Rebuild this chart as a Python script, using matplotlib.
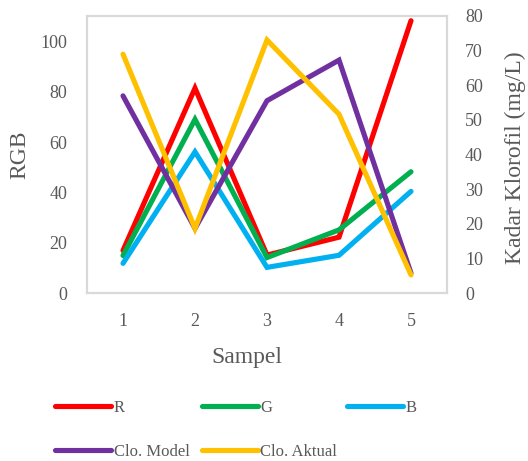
import matplotlib
matplotlib.use("Agg")
import matplotlib.pyplot as plt
from matplotlib.lines import Line2D

samples = [1, 2, 3, 4, 5]
r_vals = [17.0, 81.5, 15.2, 22.3, 108.3]
g_vals = [15.0, 69.1, 14.2, 25.2, 48.3]
b_vals = [11.9, 56.2, 10.3, 15.1, 40.5]
clo_model = [56.9, 18.7, 55.5, 67.2, 5.8]
clo_aktual = [68.9, 18.7, 73.0, 51.6, 5.3]
left_ticks = [0, 20, 40, 60, 80, 100]
right_ticks = [0, 10, 20, 30, 40, 50, 60, 70, 80]

plt.rcParams['font.family'] = ['Liberation Serif', 'DejaVu Serif']
txt = '#595959'
grid_c = '#d9d9d9'

fig = plt.figure(figsize=(5.28, 4.61), dpi=100)
W, H = 528, 461
x0, x1, ytop, ybot = 87, 447, 15.7, 293.3
ax = fig.add_axes([x0 / W, 1 - ybot / H, (x1 - x0) / W, (ybot - ytop) / H])
ax2 = ax.twinx()

lw = 3.7
kw = dict(lw=lw, solid_capstyle='round', solid_joinstyle='miter')
lr, = ax.plot(samples, r_vals, color='#FF0000', label='R', **kw)
lg, = ax.plot(samples, g_vals, color='#00B050', label='G', **kw)
lb, = ax.plot(samples, b_vals, color='#00B0F0', label='B', **kw)
lm, = ax2.plot(samples, clo_model, color='#7030A0', label='Clo. Model', **kw)
la, = ax2.plot(samples, clo_aktual, color='#FFC000', label='Clo. Aktual', **kw)

ax.set_xlim(0.5, 5.5)
ax.set_ylim(0, 110.3)
ax2.set_ylim(0, 80)
ax.set_xticks(samples)
ax.set_yticks(left_ticks)
ax2.set_yticks(right_ticks)

for a in (ax, ax2):
    for s in a.spines.values():
        s.set_color(grid_c)
        s.set_linewidth(1.5)
    a.tick_params(length=0, labelsize=13, labelcolor=txt)
ax.tick_params(axis='y', pad=14)
ax.tick_params(axis='x', pad=14)
ax2.tick_params(axis='y', pad=13)

ax.set_ylabel('RGB', fontsize=17, color=txt, va='center')
ax.yaxis.set_label_coords(-0.186, 0.5)
ax2.set_ylabel('Kadar Klorofil (mg/L)', fontsize=17, color=txt, va='center')
ax2.yaxis.set_label_coords(1.189, 0.49)
ax.set_xlabel('Sampel', fontsize=17, color=txt, va='center')
ax.xaxis.set_label_coords(0.444, -0.233)

fs_leg = 12
hl = 56 / (fs_leg * 100 / 72)
entries = [(lr, 55, 408), (lg, 202, 408), (lb, 347, 408), (lm, 55, 452), (la, 202, 452)]
for h, lx, ly in entries:
    handle = Line2D([], [], color=h.get_color(), lw=lw, solid_capstyle='round')
    leg = fig.legend(handles=[handle], labels=[h.get_label()], loc='center left',
                     bbox_to_anchor=(lx / W, 1 - ly / H), frameon=False,
                     borderpad=0, borderaxespad=0, handlelength=hl,
                     handletextpad=0.15, fontsize=fs_leg)
    for t in leg.get_texts():
        t.set_color(txt)

fig.savefig('out.png', dpi=100)
